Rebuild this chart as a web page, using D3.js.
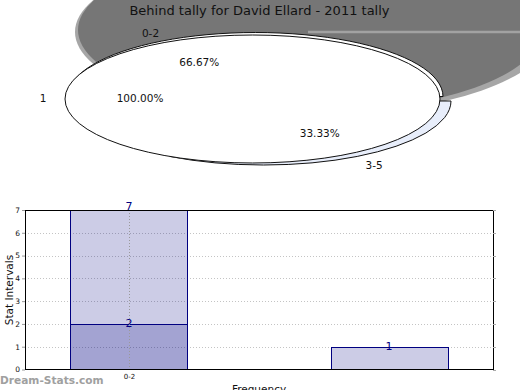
<!DOCTYPE html>
<html>
<head>
<meta charset="utf-8">
<style>
    body {
        margin: 0;
        background: #fff;
    }

    svg {
        font-family: "DejaVu Sans", sans-serif;
    }
</style>
</head>
<body>
<svg width="520" height="390"></svg>

<script src="https://d3js.org/d3.v7.min.js"></script>
<script>
    // ---- data ----
    let title = "Behind tally for David Ellard - 2011 tally"

    // pie: intervals and their share
    let pieLabels = ["0-2", "3-5"]
    let pieValues = [2, 1]
    // the single "1" slice that sits on top
    let totalLabels = ["1"]
    let totalValues = [1]

    // bars
    let categories = ["0-2", "3-5"]
    let xTickLabels = ["0-2"]
    let seriesA = [7, null]
    let seriesB = [2, 1]
    let yTicks = [0, 1, 2, 3, 4, 5, 6, 7]

    let svg = d3.select("svg")

    // ---- pie part ----
    let rx = 187.5, ry = 64
    let pcx = 252.5, pcy = 99

    // big grey shadow behind the pie
    svg.append("ellipse")
        .attr("cx", 313).attr("cy", 32)
        .attr("rx", 238).attr("ry", 83)
        .style("fill", "#a6a6a6")
    svg.append("ellipse")
        .attr("cx", 310).attr("cy", 30)
        .attr("rx", 232).attr("ry", 82)
        .style("fill", "#767676")
    svg.append("line")
        .attr("x1", 308).attr("x2", 545)
        .attr("y1", 32).attr("y2", 32)
        .style("stroke", "#a2a2a2")
        .style("stroke-width", 2.5)

    let arc = d3.arc().innerRadius(0).outerRadius(rx)

    let pie = d3.pie().sort(null)
        .startAngle(7 * Math.PI / 6)
        .endAngle(7 * Math.PI / 6 + 2 * Math.PI)
    let slices = pie(pieValues)

    // each slice is drawn a little offset, like the original
    let offsets = [[3, -2.5], [11, 2]]
    let fills = ["#ffffff", "#e8eefb"]
    let labelOut = [1.12, 1.18]

    // draw 3-5 first, then 0-2
    ;[1, 0].forEach(i => {
        svg.append("g")
            .attr("transform", `translate(${pcx + offsets[i][0]},${pcy + offsets[i][1]}) scale(1,${ry / rx})`)
            .append("path")
            .attr("d", arc(slices[i]))
            .attr("vector-effect", "non-scaling-stroke")
            .style("fill", fills[i])
            .style("stroke", "#111")
            .style("stroke-width", 1)
    })

    let totalPie = d3.pie().sort(null)
        .startAngle(Math.PI / 2)
        .endAngle(Math.PI / 2 + 2 * Math.PI)
    let totalSlices = totalPie(totalValues)

    svg.append("g")
        .attr("transform", `translate(${pcx},${pcy}) scale(1,${ry / rx})`)
        .selectAll("path")
        .data(totalSlices)
        .join("path")
        .attr("d", arc)
        .attr("vector-effect", "non-scaling-stroke")
        .style("fill", "#fff")
        .style("stroke", "#111")
        .style("stroke-width", 1)

    function ellPos(cx, cy, a, k) {
        return [cx + k * rx * Math.sin(a), cy - k * ry * Math.cos(a)]
    }

    function pct(d, total) {
        return d3.format(".2f")(d.value / total * 100) + "%"
    }

    function pieText(pos, txt) {
        svg.append("text")
            .attr("x", pos[0]).attr("y", pos[1])
            .attr("text-anchor", "middle").attr("dominant-baseline", "middle")
            .style("font-size", "10.5px").style("fill", "#111")
            .text(txt)
    }

    let pieTotal = d3.sum(pieValues)
    slices.forEach((d, i) => {
        let mid = (d.startAngle + d.endAngle) / 2
        let cx = pcx + offsets[i][0], cy = pcy + offsets[i][1]
        pieText(ellPos(cx, cy, mid, 0.6), pct(d, pieTotal))
        pieText(ellPos(cx, cy, mid, labelOut[i]), pieLabels[i])
    })

    totalSlices.forEach((d, i) => {
        let mid = (d.startAngle + d.endAngle) / 2
        pieText(ellPos(pcx, pcy, mid, 0.6), pct(d, d3.sum(totalValues)))
        pieText(ellPos(pcx, pcy, mid, 1.117), totalLabels[i])
    })

    svg.append("text")
        .attr("x", 259.5).attr("y", 14.5)
        .attr("text-anchor", "middle")
        .style("font-size", "13px")
        .style("fill", "#111")
        .text(title)

    // ---- bar part ----
    let plotLeft = 25, plotRight = 493, plotTop = 210, plotBottom = 369.5

    let x = d3.scaleLinear().domain([-0.4, 1.4]).range([plotLeft, plotRight])
    let y = d3.scaleLinear().domain([0, 7]).range([plotBottom, plotTop])
    let barW = x(0.45) - x(0)

    // dotted grid
    svg.append("g")
        .selectAll("line")
        .data(yTicks.filter(t => t > 0 && t < 7))
        .join("line")
        .attr("x1", plotLeft).attr("x2", plotRight)
        .attr("y1", d => Math.round(y(d)) + 0.5)
        .attr("y2", d => Math.round(y(d)) + 0.5)
        .style("stroke", "#c4c4c4")
        .style("stroke-dasharray", "1,2")

    // bars, both series are see-through so the overlap looks darker
    let series = [seriesA, seriesB]
    series.forEach(s => {
        svg.append("g")
            .selectAll("rect")
            .data(s.map((v, i) => ({ v: v, i: i })).filter(d => d.v != null))
            .join("rect")
            .attr("x", d => Math.round(x(d.i) - barW / 2) + 0.5)
            .attr("width", barW)
            .attr("y", d => Math.round(y(d.v)) + 0.5)
            .attr("height", d => plotBottom - Math.round(y(d.v)) - 0.5)
            .style("fill", "#000080")
            .style("fill-opacity", 0.2)
            .style("stroke", "#000080")
            .style("stroke-width", 1)
    })

    // vertical category grid line
    svg.append("g")
        .selectAll("line")
        .data(xTickLabels.map((d, i) => i))
        .join("line")
        .attr("x1", d => Math.round(x(d)) + 0.5)
        .attr("x2", d => Math.round(x(d)) + 0.5)
        .attr("y1", plotTop).attr("y2", plotBottom)
        .style("stroke", "#999")
        .style("stroke-dasharray", "1,2")

    // value labels, the top one sits a bit higher
    let yMax = d3.max(yTicks)
    series.forEach(s => {
        svg.append("g")
            .selectAll("text")
            .data(s.map((v, i) => ({ v: v, i: i })).filter(d => d.v != null))
            .join("text")
            .attr("x", d => x(d.i))
            .attr("y", d => d.v >= yMax ? y(d.v) : y(d.v) + 3)
            .attr("text-anchor", "middle")
            .style("font-size", "11px")
            .style("fill", "#000080")
            .text(d => d.v)
    })

    // frame
    svg.append("rect")
        .attr("x", plotLeft + 0.5).attr("y", plotTop + 0.5)
        .attr("width", plotRight - plotLeft).attr("height", plotBottom - plotTop - 0.5)
        .style("fill", "none")
        .style("stroke", "#000")
        .style("stroke-width", 1)

    // y axis
    let yAxis = d3.axisLeft(y).tickValues(yTicks).tickFormat(d3.format("d")).tickSize(3).tickPadding(2)
    let yg = svg.append("g")
        .attr("transform", `translate(${plotLeft},0)`)
        .call(yAxis)
    yg.select(".domain").remove()
    yg.selectAll("line").style("stroke", "#999")
    yg.selectAll("text").style("font-size", "7.5px").style("font-family", "DejaVu Sans").style("fill", "#111")

    // small ticks on the right
    svg.append("g")
        .selectAll("line")
        .data(yTicks)
        .join("line")
        .attr("x1", plotRight).attr("x2", plotRight + 3)
        .attr("y1", d => Math.round(y(d)) + 0.5)
        .attr("y2", d => Math.round(y(d)) + 0.5)
        .style("stroke", "#aaa")

    // x axis
    let xAxis = d3.axisBottom(x)
        .tickValues(xTickLabels.map((d, i) => i))
        .tickFormat((d, i) => xTickLabels[i])
        .tickSize(0).tickPadding(5)
    let xg = svg.append("g")
        .attr("transform", `translate(0,${plotBottom})`)
        .call(xAxis)
    xg.select(".domain").remove()
    xg.selectAll("text").style("font-size", "7px").style("font-family", "DejaVu Sans").style("fill", "#111")

    svg.append("text")
        .attr("transform", "translate(13,290) rotate(-90)")
        .attr("text-anchor", "middle")
        .style("font-size", "10.5px")
        .style("fill", "#111")
        .text("Stat Intervals")

    // sits at the bottom edge, partly cut off as in the original
    svg.append("text")
        .attr("x", 259).attr("y", 392.5)
        .attr("text-anchor", "middle")
        .style("font-size", "10.5px")
        .style("fill", "#111")
        .text("Frequency")

    svg.append("text")
        .attr("x", 0).attr("y", 384)
        .style("font-size", "10.6px")
        .style("font-weight", "bold")
        .style("fill", "#a0a0a0")
        .text("Dream-Stats.com")
</script>
</body>
</html>
